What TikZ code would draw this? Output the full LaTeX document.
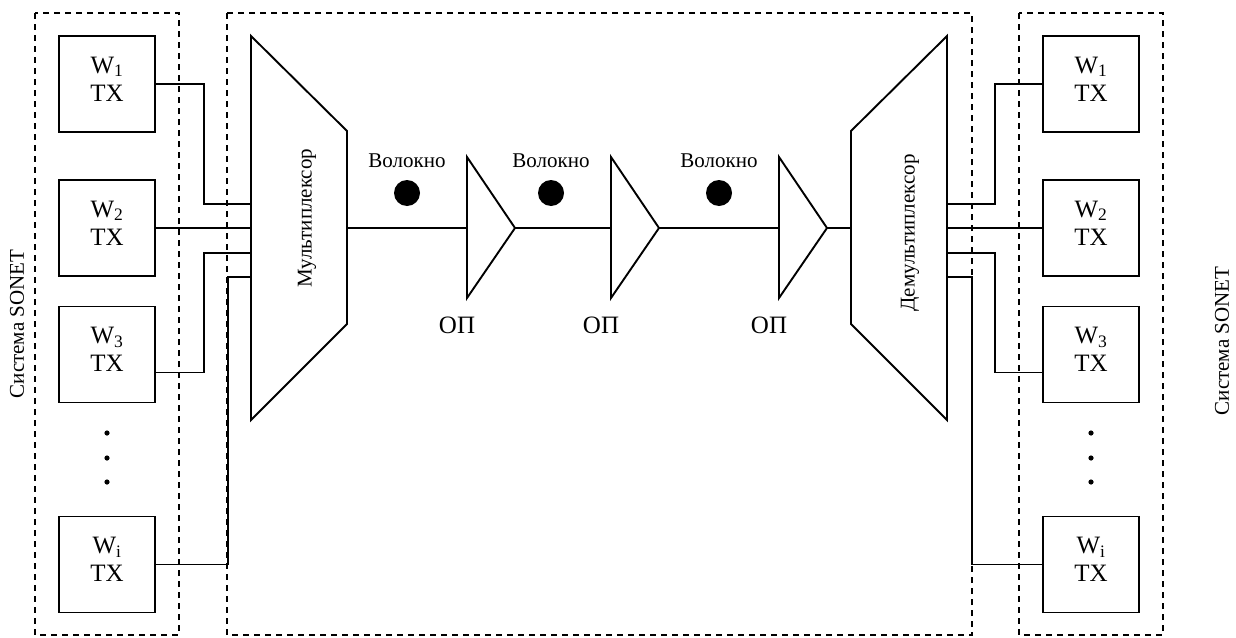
\documentclass[tikz,border=0pt]{standalone}
\usepackage{fontspec}
\setmainfont{Liberation Serif}
\usetikzlibrary{positioning}

\tikzset{
    wire/.style={line width=1.9pt},
    frame/.style={line width=1.7pt, dash pattern=on 6pt off 5pt},
    txbox/.style={draw, line width=1.9pt, minimum width=96pt, minimum height=96pt},
    boxtext/.style={inner sep=0pt, align=center, font=\fontsize{25}{28}\selectfont},
    fibre/.style={circle, fill=black, minimum size=26pt, inner sep=0pt},
    smalltext/.style={inner sep=0pt, font=\fontsize{21}{24}\selectfont},
    bigtext/.style={font=\fontsize{25}{28}\selectfont},
}

\begin{document}
\begin{tikzpicture}[x=1pt, y=-1pt]
    \useasboundingbox (0,0) rectangle (1236,637);
    \draw[frame] (35,13) rectangle (179,635);
    \draw[frame] (227,13) rectangle (972,635);
    \draw[frame] (1019,13) rectangle (1163,635);

    \node[txbox] (w1) at (107,84) {};
    \node[txbox] (w2) at (107,228) {};
    \node[txbox] (w3) at (107,354.5) {};
    \node[txbox] (wi) at (107,564.5) {};
    \node[txbox] (v1) at (1091,84) {};
    \node[txbox] (v2) at (1091,228) {};
    \node[txbox] (v3) at (1091,354.5) {};
    \node[txbox] (vi) at (1091,564.5) {};
    \foreach \b/\s in {w1/1, w2/2, w3/3, wi/i, v1/1, v2/2, v3/3, vi/i}
        \node[boxtext] at ([yshift=5pt]\b.center) {W\textsubscript{\s}\\TX};
    \foreach \y in {433,458,482} {
        \fill (107,\y) circle (2.6pt);
        \fill (1091,\y) circle (2.6pt);
    }

    \draw[wire] (251,36) -- (347,131) -- (347,324) -- (251,420) -- cycle;
    \draw[wire] (947,36) -- (851,131) -- (851,324) -- (947,420) -- cycle;
    \node[smalltext, rotate=90] (mux) at (307,218) {Мультиплексор};
    \node[smalltext, rotate=90] (demux) at (910,233) {Демультиплексор};
    \coordinate (muxout) at (347,228);
    \coordinate (demuxin) at (851,228);
    \foreach \i/\y in {1/204, 2/228, 3/253, 4/277} {
        \coordinate (mi\i) at (251,\y);
        \coordinate (mo\i) at (947,\y);
    }

    \draw[wire] (w1.east) -- ++(48,0) |- (mi1);
    \draw[wire] (w2.east) -- (mi2);
    \draw[wire] ([yshift=-18pt]w3.east) -- ++(48,0) |- (mi3);
    \draw[wire] (wi.east) -- ++(72,0) |- (mi4);
    \draw[wire] (mo1) -- ++(48,0) |- (v1.west);
    \draw[wire] (mo2) -- (v2.west);
    \draw[wire] (mo3) -- ++(48,0) |- ([yshift=-18pt]v3.west);
    \draw[wire] (mo4) -- ++(25,0) |- (vi.west);

    \foreach \i/\x in {1/467, 2/611, 3/779} {
        \draw[wire] (\x,157) -- (\x+48,228) -- (\x,298) -- cycle;
        \coordinate (ampin\i) at (\x,228);
        \coordinate (ampout\i) at (\x+48,228);
        \node[bigtext] (op\i) at (\x-10,325) {ОП};
    }
    \draw[wire] (muxout) -- (ampin1);
    \draw[wire] (ampout1) -- (ampin2);
    \draw[wire] (ampout2) -- (ampin3);
    \draw[wire] (ampout3) -- (demuxin);

    \node[fibre] (f1) at (407,193) {};
    \node[fibre] (f2) at (551,193) {};
    \node[fibre] (f3) at (719,193) {};
    \node[smalltext, above=12pt of f1] {Волокно};
    \node[smalltext, above=12pt of f2] {Волокно};
    \node[smalltext, above=12pt of f3] {Волокно};

    \node[smalltext, rotate=90] (sys1) at (17,324) {Система SONET};
    \node[smalltext, rotate=90] (sys2) at (1222,341) {Система SONET};
\end{tikzpicture}
\end{document}
